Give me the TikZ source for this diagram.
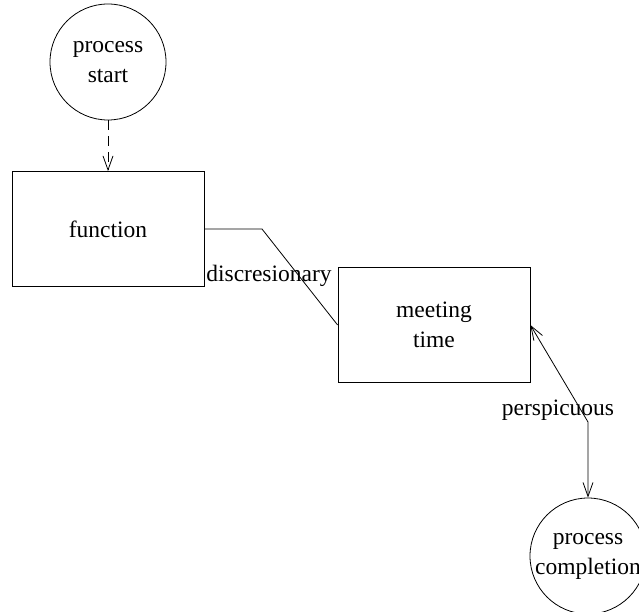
\documentclass[tikz,border=0pt]{standalone}
\usepackage{fontspec}
\setmainfont{Liberation Serif}
\usetikzlibrary{arrows.meta}

\begin{document}
\begin{tikzpicture}[
    x=1pt, y=-1pt,
    every path/.style={line width=0.8pt},
    state/.style={draw, circle, minimum size=116pt, inner sep=0pt, align=center, font=\fontsize{23.5}{30}\selectfont},
    block/.style={draw, rectangle, minimum width=192pt, minimum height=115pt, align=center, font=\fontsize{23.5}{30}\selectfont},
    lbl/.style={inner sep=0pt, font=\fontsize{23.5}{30}\selectfont},
    line/.style={-{Straight Barb[length=14pt,width=10pt]}},
    twoway/.style={{Straight Barb[length=14pt,width=10pt]}-{Straight Barb[length=14pt,width=10pt]}}
]
\useasboundingbox (0,0) rectangle (639,612);
\node[state] (start) at (108,62) {process\\ start};
\node[block] (function) at (108,229) {function};
\node[block] (meeting) at (434,325) {meeting\\ time};
\node[state] (completion) at (588,556) {process\\ completion};

\coordinate (dbend) at (262,229);
\coordinate (pbend) at (588,422);
\node[lbl] (dlabel) at (269,276) {discresionary};
\node[lbl] (plabel) at (558,410) {perspicuous};

\draw[line, dash pattern=on 10pt off 6pt] (start) -- (function);
\draw (function.east) -- (dbend) -- (meeting.west);
\draw[twoway] (meeting.east) -- (pbend) -- (completion.north);
\end{tikzpicture}
\end{document}
